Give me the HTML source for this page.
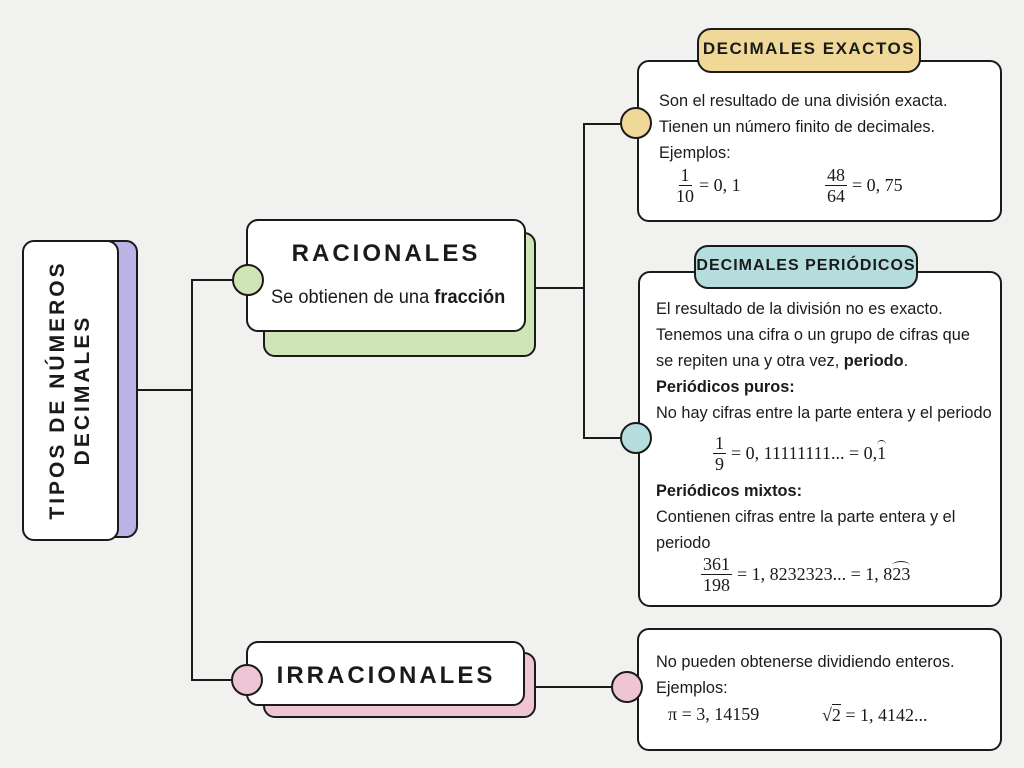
<!DOCTYPE html>
<html><head><meta charset="utf-8"><style>
*{box-sizing:border-box;margin:0;padding:0}
body{width:1024px;height:768px;background:#f1f1ef;position:relative;overflow:hidden;font-family:"Liberation Sans",sans-serif;color:#1a1a1a}
.b{position:absolute;border:2px solid #1a1a1a;border-radius:12px;background:#fff}
.c{position:absolute;border:2px solid #1a1a1a;border-radius:50%}
.l{position:absolute;background:#1a1a1a}
.h{font-family:"Liberation Sans",sans-serif;font-weight:bold;letter-spacing:2px;text-transform:uppercase}
.t{position:absolute;font-size:17px;line-height:26px;transform:scaleX(0.96);transform-origin:0 0;white-space:nowrap}
.m{position:absolute;font-family:"Liberation Serif",serif;font-size:18px;display:flex;align-items:center;white-space:nowrap}
.f{display:inline-flex;flex-direction:column;align-items:center;margin-right:5px;line-height:20px}
.f span:first-child{border-bottom:1px solid #1a1a1a;padding:0 2px}
.arc{position:relative;display:inline-block}
.arc:before{content:"";position:absolute;left:0;right:0;top:-3px;height:8px;border-top:1px solid #1a1a1a;border-radius:50% 50% 0 0}
</style></head><body>
<div class="l" style="left:137px;top:389px;width:56px;height:2px"></div>
<div class="l" style="left:191px;top:280px;width:2px;height:401px"></div>
<div class="l" style="left:191px;top:279px;width:45px;height:2px"></div>
<div class="l" style="left:191px;top:679px;width:45px;height:2px"></div>
<div class="l" style="left:535px;top:287px;width:50px;height:2px"></div>
<div class="l" style="left:583px;top:123px;width:2px;height:316px"></div>
<div class="l" style="left:583px;top:123px;width:40px;height:2px"></div>
<div class="l" style="left:583px;top:437px;width:40px;height:2px"></div>
<div class="l" style="left:535px;top:686px;width:80px;height:2px"></div>

<div class="b" style="left:37px;top:240px;width:101px;height:298px;background:#b9b3e6"></div>
<div class="b" style="left:22px;top:240px;width:97px;height:301px"></div>
<div class="h" style="position:absolute;left:70px;top:390px;width:300px;margin-left:-150px;margin-top:-25px;transform:rotate(-90deg);text-align:center;font-size:21px;line-height:25px;letter-spacing:3px">TIPOS DE NÚMEROS<br>DECIMALES</div>

<div class="b" style="left:263px;top:232px;width:273px;height:125px;background:#cfe5b6"></div>
<div class="b" style="left:246px;top:219px;width:280px;height:113px"></div>
<div class="c" style="left:232px;top:264px;width:32px;height:32px;background:#cfe5b6"></div>
<div class="h" style="position:absolute;left:246px;top:240px;width:280px;text-align:center;font-size:24px;letter-spacing:3px">RACIONALES</div>
<div class="t" style="left:271px;top:285px;font-size:19px;transform:scaleX(0.96)">Se obtienen de una <b>fracción</b></div>

<div class="b" style="left:263px;top:652px;width:273px;height:66px;background:#efc4d4"></div>
<div class="b" style="left:246px;top:641px;width:279px;height:65px"></div>
<div class="c" style="left:231px;top:664px;width:32px;height:32px;background:#efc4d4"></div>
<div class="h" style="position:absolute;left:246px;top:662px;width:280px;text-align:center;font-size:24px;letter-spacing:3px">IRRACIONALES</div>

<div class="b" style="left:637px;top:60px;width:365px;height:162px"></div>
<div class="c" style="left:620px;top:107px;width:32px;height:32px;background:#f0d998"></div>
<div class="b" style="left:697px;top:28px;width:224px;height:45px;background:#f0d998;border-radius:14px"></div>
<div class="h" style="position:absolute;left:697px;top:39px;width:224px;text-align:center;font-size:17px;letter-spacing:1.5px">DECIMALES EXACTOS</div>
<div class="t" style="left:659px;top:88px">Son el resultado de una división exacta.<br>Tienen un número finito de decimales.<br>Ejemplos:</div>
<div class="m" style="left:676px;top:165px"><span class="f"><span>1</span><span>10</span></span>= 0, 1</div>
<div class="m" style="left:825px;top:165px"><span class="f"><span>48</span><span>64</span></span>= 0, 75</div>

<div class="b" style="left:638px;top:271px;width:364px;height:336px"></div>
<div class="c" style="left:620px;top:422px;width:32px;height:32px;background:#b5dddd"></div>
<div class="b" style="left:694px;top:245px;width:224px;height:44px;background:#b5dddd;border-radius:14px"></div>
<div class="h" style="position:absolute;left:694px;top:257px;width:224px;text-align:center;font-size:16px;letter-spacing:1px">DECIMALES PERIÓDICOS</div>
<div class="t" style="left:656px;top:296px">El resultado de la división no es exacto.<br>Tenemos una cifra o un grupo de cifras que<br>se repiten una y otra vez, <b>periodo</b>.<br><b>Periódicos puros:</b><br>No hay cifras entre la parte entera y el periodo</div>
<div class="m" style="left:713px;top:433px"><span class="f"><span>1</span><span>9</span></span>= 0, 11111111... = 0, <span class="arc">1</span></div>
<div class="t" style="left:656px;top:478px"><b>Periódicos mixtos:</b><br>Contienen cifras entre la parte entera y el<br>periodo</div>
<div class="m" style="left:701px;top:554px"><span class="f"><span>361</span><span>198</span></span>= 1, 8232323... = 1, 8<span class="arc">23</span></div>

<div class="b" style="left:637px;top:628px;width:365px;height:123px"></div>
<div class="c" style="left:611px;top:671px;width:32px;height:32px;background:#efc4d4"></div>
<div class="t" style="left:656px;top:649px">No pueden obtenerse dividiendo enteros.<br>Ejemplos:</div>
<div class="m" style="left:668px;top:704px">π = 3, 14159</div>
<div class="m" style="left:822px;top:704px">√<span style="border-top:1px solid #1a1a1a">2</span>&nbsp;= 1, 4142...</div>
</body></html>
